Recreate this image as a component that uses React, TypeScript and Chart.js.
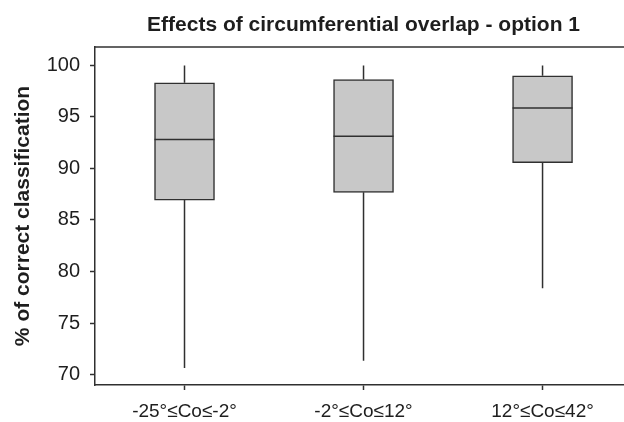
import React, { useEffect, useRef } from "react";
import { Chart, registerables } from "chart.js";

Chart.register(...registerables);

const categories = ["-25°≤Co≤-2°", "-2°≤Co≤12°", "12°≤Co≤42°"];
const whiskerLow = [70.65, 71.36, 78.38];
const q1 = [86.92, 87.67, 90.55];
const median = [92.79, 93.1, 95.83];
const q3 = [98.28, 98.6, 98.96];
const whiskerHigh = [99.95, 99.95, 99.95];
const yTicks = [70, 75, 80, 85, 90, 95, 100];
const chartTitle = "Effects of circumferential overlap - option 1";
const yTitle = "% of correct classification";

const FONT = '"Liberation Sans", Arial, Helvetica, sans-serif';
const INK = "#303030";
const TEXT = "#1e1e1e";

const boxPlugin = {
  id: "boxWhiskers",
  afterDatasetsDraw(chart: any) {
    const ctx = chart.ctx;
    const xs = chart.scales.x;
    const ys = chart.scales.y;
    const meta = chart.getDatasetMeta(0);
    ctx.save();
    ctx.strokeStyle = INK;
    ctx.lineWidth = 1.5;
    categories.forEach((_, i) => {
      const x = xs.getPixelForValue(i + 1);
      const bar = meta.data[i];
      const half = bar ? bar.width / 2 : 30;
      ctx.beginPath();
      ctx.moveTo(x, ys.getPixelForValue(q3[i]));
      ctx.lineTo(x, ys.getPixelForValue(whiskerHigh[i]));
      ctx.moveTo(x, ys.getPixelForValue(q1[i]));
      ctx.lineTo(x, ys.getPixelForValue(whiskerLow[i]));
      const my = ys.getPixelForValue(median[i]);
      ctx.moveTo(x - half, my);
      ctx.lineTo(x + half, my);
      ctx.stroke();
    });
    // top frame line
    const a = chart.chartArea;
    ctx.beginPath();
    ctx.moveTo(a.left, a.top);
    ctx.lineTo(a.right, a.top);
    ctx.stroke();
    ctx.restore();
  },
  afterDraw(chart: any) {
    const ctx = chart.ctx;
    const xs = chart.scales.x;
    ctx.save();
    ctx.fillStyle = TEXT;
    ctx.font = `bold 21px ${FONT}`;
    ctx.textAlign = "center";
    ctx.textBaseline = "middle";
    ctx.fillText(chartTitle, xs.getPixelForValue(2), 25);
    ctx.restore();
  },
};

export default function App() {
  const ref = useRef<HTMLCanvasElement | null>(null);
  useEffect(() => {
    if (!ref.current) return;
    const chart = new Chart(ref.current, {
      type: "bar",
      data: {
        datasets: [
          {
            data: categories.map((_, i) => ({ x: i + 1, y: [q1[i], q3[i]] })) as any,
            backgroundColor: "#c8c8c8",
            borderColor: INK,
            borderWidth: 1.5,
            borderSkipped: false,
            barThickness: 60,
          },
        ],
      },
      options: {
        responsive: false,
        animation: false,
        events: [],
        layout: { padding: { top: 47, right: 0, bottom: 0, left: 0 } },
        plugins: {
          legend: { display: false },
          title: { display: false },
          tooltip: { enabled: false },
        },
        scales: {
          x: {
            type: "linear",
            offset: false,
            min: 0.5,
            max: 3.455,
            afterBuildTicks: (s: any) => {
              s.ticks = categories.map((_, i) => ({ value: i + 1 }));
            },
            afterFit: (s: any) => {
              s.height = 37;
            },
            grid: {
              display: true,
              offset: false,
              drawOnChartArea: false,
              drawTicks: true,
              tickLength: 5,
              tickColor: INK,
              tickWidth: 1.5,
            },
            border: { display: true, color: INK, width: 1.5 },
            ticks: {
              autoSkip: false,
              maxRotation: 0,
              padding: 10,
              color: TEXT,
              font: { family: FONT, size: 19 },
              callback: (v: any) => categories[Math.round(Number(v)) - 1] ?? "",
            },
          },
          y: {
            type: "linear",
            min: 69,
            max: 101.75,
            afterBuildTicks: (s: any) => {
              s.ticks = yTicks.map((v) => ({ value: v }));
            },
            afterFit: (s: any) => {
              s.width = 95;
            },
            grid: {
              display: true,
              drawOnChartArea: false,
              drawTicks: true,
              tickLength: 5,
              tickColor: INK,
              tickWidth: 1.5,
            },
            border: { display: true, color: INK, width: 1.5 },
            ticks: {
              padding: 10,
              color: TEXT,
              font: { family: FONT, size: 20 },
            },
            title: {
              display: true,
              text: yTitle,
              color: TEXT,
              font: { family: FONT, size: 21, weight: "bold" },
              padding: { top: 11, bottom: 0 },
            },
          },
        },
      },
      plugins: [boxPlugin],
    });
    return () => chart.destroy();
  }, []);
  return (
    <div style={{ position: "absolute", left: 0, top: 0, width: 624, height: 422, background: "#fff" }}>
      <canvas ref={ref} width={624} height={422} style={{ display: "block" }} />
    </div>
  );
}
